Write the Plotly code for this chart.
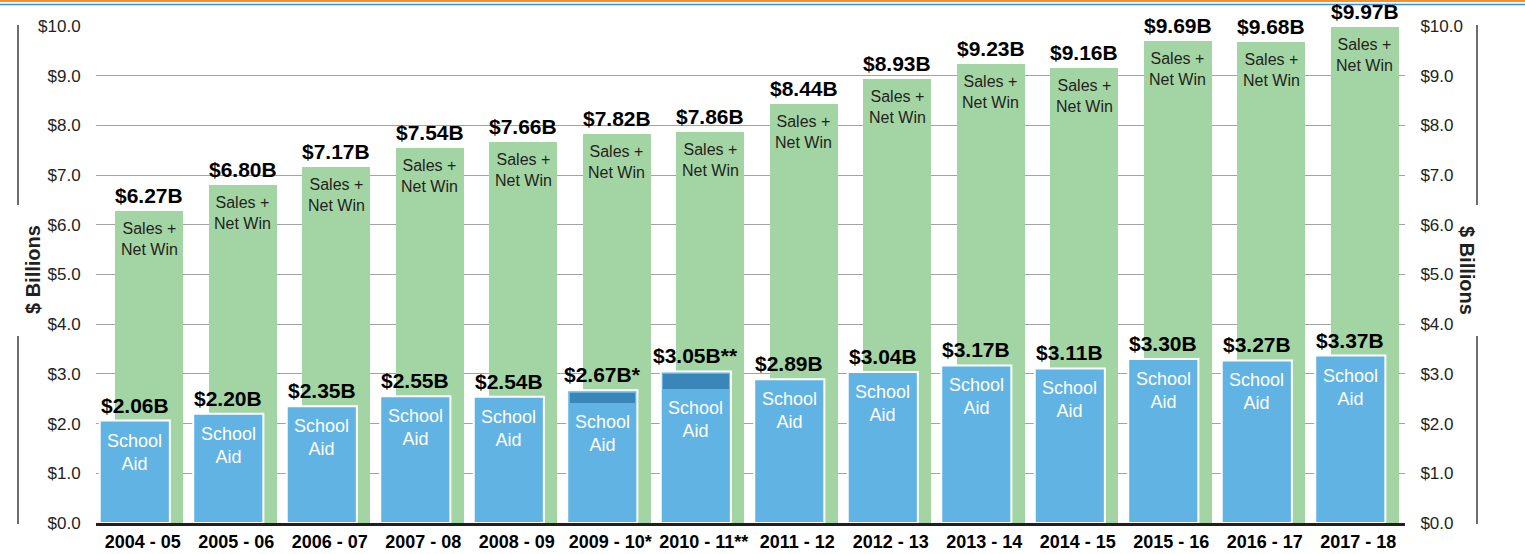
import plotly.graph_objects as go

# ---- data ----
years = ["2004 - 05", "2005 - 06", "2006 - 07", "2007 - 08", "2008 - 09", "2009 - 10*",
         "2010 - 11**", "2011 - 12", "2012 - 13", "2013 - 14", "2014 - 15", "2015 - 16",
         "2016 - 17", "2017 - 18"]
sales_net_win = [6.27, 6.80, 7.17, 7.54, 7.66, 7.82, 7.86, 8.44, 8.93, 9.23, 9.16, 9.69, 9.68, 9.97]
school_aid = [2.06, 2.20, 2.35, 2.55, 2.54, 2.67, 3.05, 2.89, 3.04, 3.17, 3.11, 3.30, 3.27, 3.37]
aid_suffix = ["", "", "", "", "", "*", "**", "", "", "", "", "", "", ""]
# darker top segment of school aid (estimated, two years only)
aid_extra = [0, 0, 0, 0, 0, 0.20, 0.30, 0, 0, 0, 0, 0, 0, 0]
y_ticks = [0, 1, 2, 3, 4, 5, 6, 7, 8, 9, 10]
y_ticktext = ["$%.1f" % v for v in y_ticks]

# ---- style ----
FONT = "Liberation Sans, Arial, sans-serif"
GREEN = "#a3d4a3"
BLUE = "#60b3e3"
DARK = "#3a86b9"
INK = "#231f20"
G_OFF, G_W = 0.07, 0.73
B_OFF, B_W = -0.085, 0.75

idx = list(range(len(years)))
gx = [i + G_OFF for i in idx]
bx = [i + B_OFF for i in idx]

fig = go.Figure()
fig.add_trace(go.Bar(x=gx, y=sales_net_win, width=G_W, marker=dict(color=GREEN, line=dict(width=0)),
                     hoverinfo="skip", showlegend=False))
fig.add_trace(go.Bar(x=bx, y=school_aid, width=B_W, marker=dict(color=BLUE, line=dict(color="white", width=2)),
                     hoverinfo="skip", showlegend=False))
# darker segment inset at top of school aid bar
dk_x, dk_base, dk_h = [], [], []
inset = 0.05
for i, (a, e) in enumerate(zip(school_aid, aid_extra)):
    if e > 0:
        dk_x.append(bx[i])
        dk_base.append(a - inset - e)
        dk_h.append(e)
fig.add_trace(go.Bar(x=dk_x, y=dk_h, base=dk_base, width=B_W - 0.05,
                     marker=dict(color=DARK, line=dict(width=0)), hoverinfo="skip", showlegend=False))
# invisible trace for right axis
fig.add_trace(go.Scatter(x=[0], y=[0], yaxis="y2", mode="markers", marker=dict(opacity=0),
                         hoverinfo="skip", showlegend=False))

ann = []
for i in idx:
    ann.append(dict(x=gx[i], y=sales_net_win[i], xref="x", yref="y", text="<b>$%.2fB</b>" % sales_net_win[i],
                    showarrow=False, yanchor="bottom", yshift=2, font=dict(family=FONT, size=21, color="black")))
    ann.append(dict(x=gx[i], y=sales_net_win[i], xref="x", yref="y", text="Sales +<br>Net Win",
                    showarrow=False, yanchor="top", yshift=-7, font=dict(family=FONT, size=16, color=INK)))
    ann.append(dict(x=bx[i], y=school_aid[i], xref="x", yref="y",
                    text="<b>$%.2fB%s</b>" % (school_aid[i], aid_suffix[i]),
                    showarrow=False, yanchor="bottom", yshift=2, font=dict(family=FONT, size=21, color="black")))
    ann.append(dict(x=bx[i], y=school_aid[i] - aid_extra[i], xref="x", yref="y", text="School<br>Aid",
                    showarrow=False, yanchor="top", yshift=-8 if aid_extra[i] == 0 else -10,
                    font=dict(family=FONT, size=18, color="white")))

# axis titles
W = 1309.0
H = 497.0
def px_x(p):
    return (p - 96) / W
def px_y(p):
    return (523 - p) / H

for xp, ang in [(20, -90), (1480, 90)]:
    ann.append(dict(x=px_x(xp), y=px_y(270), xref="paper", yref="paper", text="<b>$ Billions</b>",
                    textangle=ang, showarrow=False, font=dict(family=FONT, size=20, color=INK)))

shapes = []
for xp in [18, 1477]:
    for (y0, y1) in [(25, 205), (336, 524)]:
        shapes.append(dict(type="line", xref="paper", yref="paper", x0=px_x(xp), x1=px_x(xp),
                           y0=px_y(y0), y1=px_y(y1), line=dict(color="#6d6d6d", width=2)))
# top decorative lines
shapes.append(dict(type="line", xref="paper", yref="paper", x0=px_x(0), x1=px_x(1525),
                   y0=px_y(1), y1=px_y(1), line=dict(color="#f0932b", width=2)))
shapes.append(dict(type="line", xref="paper", yref="paper", x0=px_x(0), x1=px_x(1525),
                   y0=px_y(4.5), y1=px_y(4.5), line=dict(color="#3f8fd8", width=1.5)))

yax = dict(range=[0, 10], tickvals=y_ticks, ticktext=y_ticktext, showgrid=True, gridcolor="#a3a3a3",
           gridwidth=1, zeroline=False, ticks="outside", ticklen=11, tickcolor="rgba(0,0,0,0)",
           tickfont=dict(family=FONT, size=17, color=INK), fixedrange=True, automargin=False)

fig.update_layout(
    width=1525, height=554,
    margin=dict(l=96, r=120, t=26, b=31),
    paper_bgcolor="white", plot_bgcolor="white",
    barmode="overlay", bargap=0,
    xaxis=dict(range=[-0.5, 13.5], tickvals=idx, ticktext=["<b>%s</b>" % y for y in years],
               showgrid=False, zeroline=False, showline=True, linecolor=INK, linewidth=3,
               ticks="", tickangle=0, automargin=False,
               fixedrange=True, tickfont=dict(family=FONT, size=18, color="black")),
    yaxis=yax,
    yaxis2=dict(yax, overlaying="y", side="right", showgrid=False),
    annotations=ann,
    shapes=shapes,
)

fig.write_html("out.html", config={"displayModeBar": False, "staticPlot": True},
               post_script="document.body.style.margin='0px';")
